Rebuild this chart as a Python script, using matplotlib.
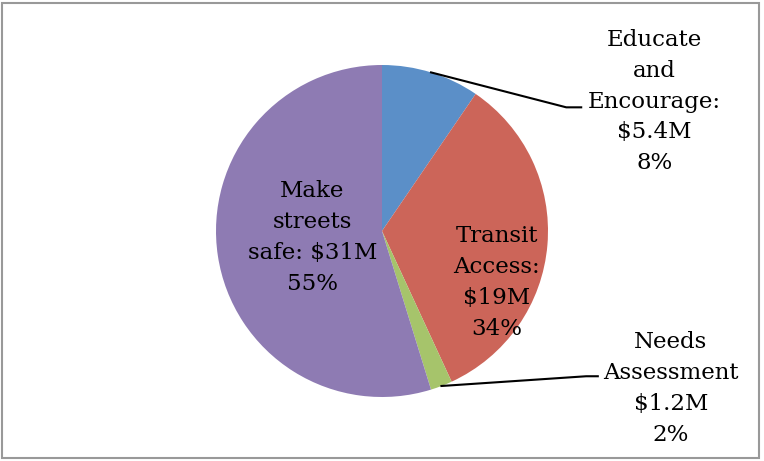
import numpy as np
import matplotlib
matplotlib.use('Agg')
import matplotlib.pyplot as plt
from matplotlib.patches import Rectangle

# data
categories = ['Educate\nand\nEncourage:', 'Transit\nAccess:', 'Needs\nAssessment', 'Make\nstreets\nsafe:']
amounts = [5.4, 19, 1.2, 31]            # million USD
money_labels = ['$5.4M', '$19M', '$1.2M', '$31M']
pct_labels = ['8%', '34%', '2%', '55%']
slice_colors = ['#5B8FC8', '#CC6559', '#A6C46B', '#8E7BB3']

W, H = 764, 461
fig = plt.figure(figsize=(W / 100, H / 100), dpi=100)

cx, cy, r = 382, 231, 166
ax = fig.add_axes([(cx - r) / W, (H - cy - r) / H, 2 * r / W, 2 * r / H])
ax.axis('off')

wedges, _ = ax.pie(amounts, colors=slice_colors, startangle=90, counterclock=False,
                   radius=1, center=(0, 0), frame=False)
ax.set_xlim(-1, 1)
ax.set_ylim(-1, 1)

font = dict(family='DejaVu Serif', fontsize=16.5, color='black', ha='center', va='center',
            linespacing=1.52)


def label(i):
    sep = ' ' if i == 3 else '\n'   # "safe: $31M" shares a line
    return categories[i] + sep + money_labels[i] + '\n' + pct_labels[i]

# inside labels
ax.text(-0.42, -0.04, label(3), **font)
ax.text(0.69, -0.31, label(1), **font)

# outside labels with leader lines
ax.text(1.64, 0.78, label(0), clip_on=False, **font)
ax.text(1.74, -0.95, label(2), clip_on=False, **font)


def mid_point(w):
    a = np.deg2rad((w.theta1 + w.theta2) / 2)
    return np.cos(a), np.sin(a)

x0, y0 = mid_point(wedges[0])
ax.plot([x0, 1.11, 1.2], [y0, 0.745, 0.745], color='black', lw=1.5, clip_on=False)
x0, y0 = mid_point(wedges[2])
ax.plot([x0, 1.23, 1.30], [y0, -0.875, -0.875], color='black', lw=1.5, clip_on=False)

# outer frame
fig.patches.append(Rectangle((1.5 / W, 3 / H), (W - 7) / W, (H - 6) / H,
                             transform=fig.transFigure, fill=False,
                             edgecolor='#999999', lw=1.5))

fig.savefig('out.png', dpi=100)
